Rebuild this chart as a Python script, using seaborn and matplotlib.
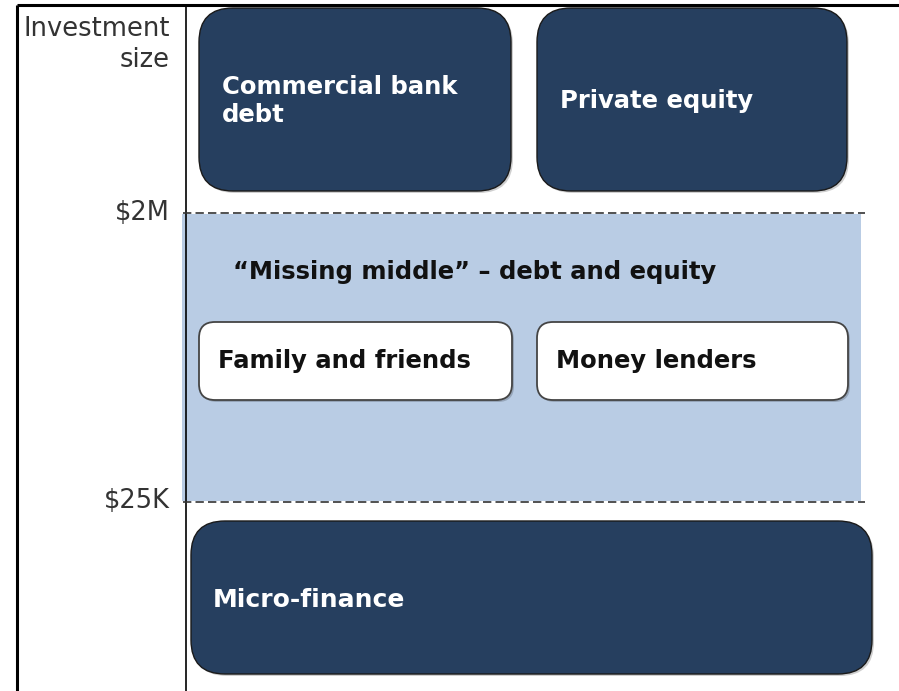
import matplotlib
matplotlib.use("Agg")
import matplotlib.pyplot as plt
import seaborn as sns
from matplotlib.patches import FancyBboxPatch, Rectangle

# data
axis_title = "Investment\nsize"
size_labels = ["$2M", "$25K"]
top_sources = ["Commercial bank\ndebt", "Private equity"]
middle_title = "\u201cMissing middle\u201d \u2013 debt and equity"
middle_sources = ["Family and friends", "Money lenders"]
bottom_sources = ["Micro-finance"]

sns.set_theme(style="white")
plt.rcParams["font.family"] = ["DejaVu Sans"]

NAVY = "#263f5f"
LIGHT = "#b9cce4"
BOLD = 17.5

fig = plt.figure(figsize=(8.99, 6.91), dpi=100)
ax = fig.add_axes([0, 0, 1, 1])
ax.set_xlim(0, 899)
ax.set_ylim(691, 0)
ax.axis("off")

# frame
ax.plot([17, 899], [5, 5], color="black", lw=2.2, solid_capstyle="butt")
ax.plot([17, 17], [5, 691], color="black", lw=2.2, solid_capstyle="butt")
ax.plot([186, 186], [5, 691], color="black", lw=1.2)

# missing middle band
ax.add_patch(Rectangle((182, 214), 679, 287, facecolor=LIGHT, edgecolor="none", zorder=1))
for y in (213, 502):
    ax.plot([183, 865], [y, y], color="#333333", lw=1.2, ls=(0, (5, 2.5)), zorder=2)


def box(x0, y0, x1, y1, r, fc, ec, lw):
    ax.add_patch(FancyBboxPatch((x0 + 2, y0 + 2), x1 - x0, y1 - y0,
                                boxstyle=f"round,pad=0,rounding_size={r}",
                                facecolor="#00000030", edgecolor="none", zorder=2))
    ax.add_patch(FancyBboxPatch((x0, y0), x1 - x0, y1 - y0,
                                boxstyle=f"round,pad=0,rounding_size={r}",
                                facecolor=fc, edgecolor=ec, lw=lw, zorder=3))


# top row: above $2M
cols = [(199, 511), (537, 847)]
for (x0, x1), lab in zip(cols, top_sources):
    box(x0, 8, x1, 191, 34, NAVY, "#1a1a1a", 1.0)
    ax.text(x0 + 23, 101, lab, color="white", fontsize=BOLD, fontweight="bold",
            va="center", ha="left", linespacing=1.22, zorder=4)

# middle band
ax.text(233, 272, middle_title, color="#111111", fontsize=BOLD, fontweight="bold",
        va="center", ha="left", zorder=4)
for (x0, x1), lab in zip(cols, middle_sources):
    box(x0, 322, x1 + 1, 400, 16, "white", "#444444", 1.3)
    ax.text(x0 + 19, 361, lab, color="#111111", fontsize=BOLD, fontweight="bold",
            va="center", ha="left", zorder=4)

# bottom row: below $25K
box(191, 521, 872, 674, 34, NAVY, "#1a1a1a", 1.0)
ax.text(213, 600, bottom_sources[0], color="white", fontsize=BOLD + 0.5, fontweight="bold",
        va="center", ha="left", zorder=4)

# size axis labels
ax.text(170, 44, axis_title, color="#333333", fontsize=18.5, ha="right", va="center",
        linespacing=1.25)
for y, lab in zip((213, 501), size_labels):
    ax.text(170, y, lab, color="#333333", fontsize=18.5, ha="right", va="center")

fig.savefig("out.png", dpi=100)
